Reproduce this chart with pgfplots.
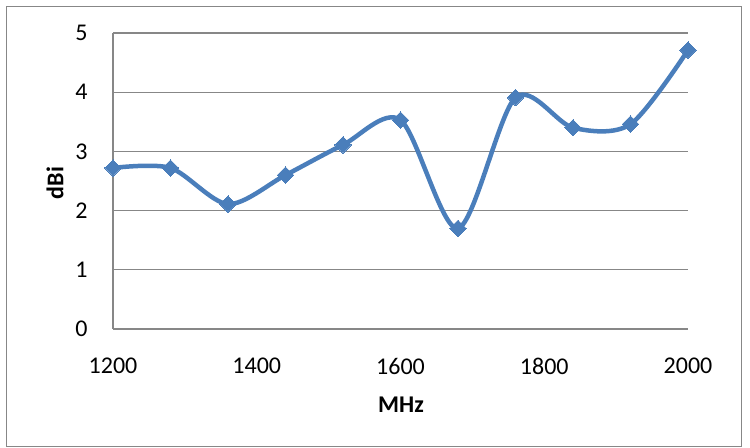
\documentclass[border=0pt]{standalone}
\usepackage{fontspec}
\setmainfont{Carlito}
\usepackage{pgfplots}
\pgfplotsset{compat=1.18}
\definecolor{excelblue}{HTML}{4A7EBB}
\definecolor{gridgrey}{HTML}{878787}
\begin{document}
\begin{tikzpicture}[x=1pt,y=1pt]
\useasboundingbox (0,0) rectangle (375,224);
\draw[color=gridgrey, line width=0.6pt] (3.3,0.7) rectangle (370.8,220.7);
\begin{axis}[at={(56.5pt,59.5pt)}, anchor=south west, scale only axis,
  width=287.5pt, height=148pt,
  xmin=1200, xmax=2000, ymin=0, ymax=5,
  xtick={1200,1400,...,2000}, ytick={0,1,2,3,4,5},
  axis x line*=bottom, axis y line*=left,
  axis line style={gridgrey, line width=0.6pt, -},
  ymajorgrids, major grid style={gridgrey, line width=0.6pt},
  major tick length=0pt,
  tick label style={font=\fontsize{12}{14}\selectfont},
  /pgf/number format/assume math mode=true,
  /pgf/number format/1000 sep={},
  scaled x ticks=false,
  xticklabel style={anchor=center, yshift=-18.5pt, inner sep=0pt},
  yticklabel style={anchor=east, xshift=-12.5pt, inner sep=0pt},
]
\addplot[excelblue, line width=2.25pt, smooth, tension=0.5,
  mark=square*, mark size=2.9pt, mark options={rotate=45, fill=excelblue, line width=0pt}]
  coordinates {
  (1200,2.72) (1280,2.72) (1360,2.11) (1440,2.60) (1520,3.11) (1600,3.53)
  (1680,1.70) (1760,3.91) (1840,3.40) (1920,3.46) (2000,4.71)
  };
\end{axis}
\node[font=\fontsize{12}{14}\selectfont\bfseries] at (200.5,21.5) {MHz};
\node[font=\fontsize{12}{14}\selectfont\bfseries, rotate=90] at (27.5,132.5) {dBi};
\end{tikzpicture}
\end{document}
